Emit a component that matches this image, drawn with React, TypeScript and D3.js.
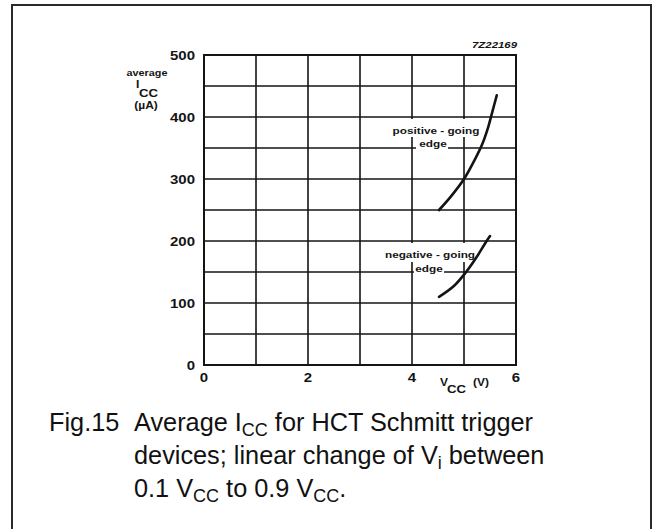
import React from 'react';
import * as d3 from 'd3';

// values
const xTickLabels = [0, 2, 4, 6];
const yTickLabels = [0, 100, 200, 300, 400, 500];
const xGrid = [0, 1, 2, 3, 4, 5, 6];
const yGrid = [0, 50, 100, 150, 200, 250, 300, 350, 400, 450, 500];

const positiveVcc = [4.52, 4.75, 5.0, 5.2, 5.35, 5.47, 5.55, 5.63];
const positiveIcc = [250, 272, 300, 330, 356, 385, 410, 435];
const negativeVcc = [4.52, 4.8, 5.04, 5.25, 5.42, 5.5];
const negativeIcc = [110, 127, 150, 175, 198, 208];

const W = 653;
const H = 529;
const plot = { left: 204, right: 516, top: 55, bottom: 365 };

const INK = '#141414';
const SANS = '"Liberation Sans", Arial, Helvetica, sans-serif';

const x = d3.scaleLinear().domain([0, 6]).range([plot.left, plot.right]);
const y = d3.scaleLinear().domain([0, 500]).range([plot.bottom, plot.top]);

const line = d3
  .line<[number, number]>()
  .x((d) => x(d[0]))
  .y((d) => y(d[1]))
  .curve(d3.curveCatmullRom.alpha(0.5));

const zip = (a: number[], b: number[]) => a.map((v, i) => [v, b[i]] as [number, number]);

// small bold, slightly stretched lettering used on the graph
const Label: React.FC<{
  x: number;
  y: number;
  anchor?: 'start' | 'middle' | 'end';
  size?: number;
  italic?: boolean;
  children: React.ReactNode;
}> = ({ x: lx, y: ly, anchor = 'start', size = 12.5, italic, children }) => (
  <text
    transform={`translate(${lx},${ly}) scale(1.2,1)`}
    textAnchor={anchor}
    fontFamily={SANS}
    fontWeight="bold"
    fontStyle={italic ? 'italic' : 'normal'}
    fontSize={size}
    fill={INK}
  >
    {children}
  </text>
);

export default function App() {
  return (
    <div style={{ position: 'fixed', left: 0, top: 0 }}>
      <svg width={W} height={H} style={{ display: 'block', background: '#fff' }}>
        {/* outer frame */}
        <rect x={12} y={5} width={639} height={540} fill="none" stroke="#2a2a2a" strokeWidth={2} />

        {/* grid */}
        <g stroke={INK} strokeWidth={1.6}>
          {xGrid.map((v) => (
            <line key={'vx' + v} x1={x(v)} x2={x(v)} y1={plot.top} y2={plot.bottom} />
          ))}
          {yGrid.map((v) => (
            <line key={'hy' + v} x1={plot.left} x2={plot.right} y1={y(v)} y2={y(v)} />
          ))}
        </g>
        <rect
          x={plot.left}
          y={plot.top}
          width={plot.right - plot.left}
          height={plot.bottom - plot.top}
          fill="none"
          stroke={INK}
          strokeWidth={2}
        />

        {/* knockouts behind curve labels */}
        <g fill="#fff">
          <rect x={390} y={119} width={92} height={18} />
          <rect x={416} y={137} width={32} height={14} />
          <rect x={383} y={243} width={94} height={19} />
          <rect x={414} y={262} width={30} height={13} />
        </g>

        {/* curves */}
        <g fill="none" stroke={INK} strokeWidth={2.6} strokeLinecap="round">
          <path d={line(zip(positiveVcc, positiveIcc)) ?? ''} />
          <path d={line(zip(negativeVcc, negativeIcc)) ?? ''} />
        </g>

        <Label x={436} y={134} anchor="middle" size={9.8}>positive - going</Label>
        <Label x={433} y={147} anchor="middle" size={9.8}>edge</Label>
        <Label x={430} y={258} anchor="middle" size={9.8}>negative - going</Label>
        <Label x={429} y={272} anchor="middle" size={9.8}>edge</Label>

        {/* y tick labels */}
        {yTickLabels.map((v) => (
          <Label key={'yl' + v} x={195} y={y(v) + 4.5} anchor="end">
            {v}
          </Label>
        ))}
        {/* x tick labels */}
        {xTickLabels.map((v) => (
          <Label key={'xl' + v} x={x(v)} y={382} anchor="middle">
            {v}
          </Label>
        ))}

        {/* axis titles */}
        <Label x={147} y={76} anchor="middle" size={9}>average</Label>
        <Label x={136} y={88} size={10}>I</Label>
        <Label x={139} y={97} size={11}>CC</Label>
        <Label x={146} y={109} anchor="middle" size={10}>(µA)</Label>

        <Label x={440} y={386} size={10}>V</Label>
        <Label x={447} y={393} size={11}>CC</Label>
        <Label x={473} y={386} size={10}>(V)</Label>

        <Label x={517} y={48} anchor="end" size={9.5} italic>7Z22169</Label>

        {/* caption */}
        <g fontFamily={SANS} fontSize={25.3} fill="#111">
          <text x={49} y={431}>Fig.15</text>
          <text x={134} y={431}>
            Average I
            <tspan fontSize={18} dy={5}>CC</tspan>
            <tspan dy={-5}> for HCT Schmitt trigger</tspan>
          </text>
          <text x={134} y={464}>
            devices; linear change of V
            <tspan fontSize={18} dy={5}>i</tspan>
            <tspan dy={-5}> between</tspan>
          </text>
          <text x={134} y={497}>
            0.1 V
            <tspan fontSize={18} dy={5}>CC</tspan>
            <tspan dy={-5}> to 0.9 V</tspan>
            <tspan fontSize={18} dy={5}>CC</tspan>
            <tspan dy={-5}>.</tspan>
          </text>
        </g>
      </svg>
    </div>
  );
}
